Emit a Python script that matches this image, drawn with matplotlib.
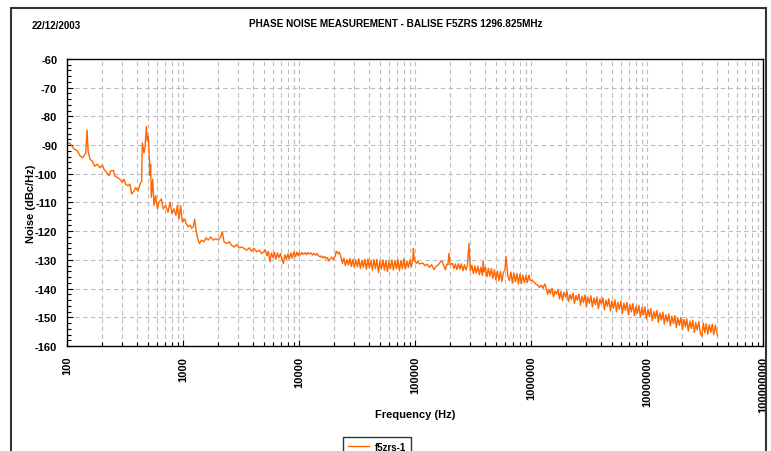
import matplotlib.pyplot as plt
from matplotlib.patches import Rectangle
from matplotlib.ticker import FixedLocator, LogLocator, MultipleLocator, NullFormatter

plt.rcParams['font.family'] = ['Liberation Sans', 'DejaVu Sans']
plt.rcParams['font.weight'] = 'bold'

# values, in pieces (Hz / dBc/Hz)
# 100 Hz .. 5 kHz
freq_low = [
    100, 104, 108, 115, 123, 129, 136, 140, 145, 149, 152, 158, 165, 173, 183,
    192, 202, 208, 220, 230, 238, 251, 258, 272, 286, 300, 310, 320, 336, 349,
    361, 378, 391, 409, 426, 440, 446, 461, 470, 483, 493, 503, 513, 520, 526,
    533, 548, 562, 581, 601, 621, 650, 677, 709, 743, 773, 804, 836, 870, 894,
    924, 955, 986, 1034, 1062, 1111, 1148, 1188, 1227, 1260, 1290, 1328, 1383,
    1448, 1517, 1578, 1652, 1732, 1824, 1923, 2017, 2113, 2183, 2256, 2378,
    2506, 2627, 2753, 2901, 3058, 3206, 3357, 3540, 3733, 3909, 4093, 4316,
    4549, 4765,
]
noise_low = [
    -89.6, -89.2, -89.8, -91.3, -92.0, -93.6, -94.4, -93.8, -92.7, -84.8,
    -92.0, -95.0, -95.5, -97.3, -96.7, -97.9, -97.0, -98.4, -99.6, -100.7,
    -99.0, -98.8, -100.7, -101.3, -101.9, -103.0, -101.9, -103.6, -104.2,
    -103.6, -107.0, -106.0, -104.8, -106.0, -103.6, -102.5, -89.2, -92.7,
    -91.0, -83.5, -88.6, -86.9, -95.0, -100.7, -96.7, -108.2, -101.9, -111.0,
    -107.6, -112.2, -109.9, -108.8, -112.2, -111.0, -113.4, -109.9, -113.9,
    -112.2, -114.5, -111.0, -115.7, -111.0, -116.8, -115.7, -117.3, -118.5,
    -117.9, -119.0, -118.5, -115.8, -119.0, -122.0, -124.3, -123.1, -123.7,
    -122.3, -123.1, -122.0, -123.1, -122.6, -123.1, -122.0, -120.2, -123.7,
    -124.3, -123.7, -124.9, -125.5, -124.7, -125.8, -125.5, -126.0, -126.6,
    -125.8, -127.0, -126.0, -127.2, -126.6, -127.8,
]
# 5 kHz .. 110 kHz
freq_mid = [
    5130, 5290, 5450, 5610, 5780, 5960, 6140, 6320, 6510, 6710, 6910, 7120,
    7340, 7560, 7790, 8020, 8260, 8510, 8770, 9040, 9310, 9590, 9880,
    10000, 10300, 10600, 10900, 11300, 11600, 12000, 12300, 12700, 13100,
    13500, 13900, 14300, 14700, 15200, 15600, 16100, 16600, 17100, 17600,
    18100,
    18700, 19200, 19800, 20400, 21000, 21700, 22300, 23000, 23700, 24400,
    25100, 25900, 26700, 27500, 28300, 29200, 30000, 30900, 31900, 32800,
    33800, 34900, 35900, 37000, 38100, 39300, 40400, 41700, 42900, 44200,
    45600, 46900, 48400, 49800, 51300, 52900, 54500, 56100, 57800, 59600,
    61400, 63200, 65100, 67100, 69100, 71200, 73400, 75600, 77900, 80200,
    82600, 85100, 87700, 90400, 93100, 95900,
    96800, 98800, 103000, 106000, 109000,
]
noise_mid = [
    -126.5, -128.6, -127.0, -130.7, -127.6, -129.2, -127.3, -129.8, -127.6,
    -129.3, -127.8, -129.6, -131.3, -128.2, -129.8, -127.9, -129.6, -127.6,
    -129.4, -127.2, -128.9, -127.3, -128.6,
    -127.6, -128.3, -127.4, -128.1, -127.5, -128.2, -127.4, -127.9, -127.6,
    -128.3, -127.7, -128.4, -127.8, -128.5, -129.0, -128.6, -129.3, -128.8,
    -129.6, -129.2, -130.4,
    -129.6, -129.0, -129.8, -128.9, -127.0, -127.8, -127.3, -128.9, -131.2,
    -129.4, -132.0, -129.9, -131.8, -129.5, -132.3, -129.8, -132.6, -130.0,
    -132.4, -129.6, -133.0, -130.1, -132.6, -129.8, -133.3, -129.7, -132.8,
    -130.2, -133.6, -129.9, -133.1, -129.8, -134.4, -130.4, -133.2, -130.0,
    -133.6, -130.2, -134.0, -130.5, -133.1, -130.0, -133.5, -130.3, -133.0,
    -129.9, -133.8, -130.2, -133.0, -129.6, -133.2, -130.4, -132.6, -130.0,
    -132.4, -129.4,
    -126.0, -130.2, -131.2, -130.5, -131.4,
]
# 110 kHz .. 200 kHz
freq_quiet = [
    116400, 121900, 127700, 133000, 139300, 145900, 151800, 158900, 166400,
    170000, 175400, 182600, 187600, 192000, 196400, 200400,
]
noise_quiet = [
    -131.1, -132.0, -131.5, -132.6, -131.7, -133.4, -132.3, -131.7, -130.6,
    -130.3, -131.7, -133.4, -131.5, -131.7, -127.7, -131.7,
]
# 200 kHz .. 1.2 MHz
freq_upper = [
    210000, 217000, 223000, 230000, 237000, 244000, 251000, 259000, 267000,
    275000, 283000, 292000, 300000, 309000, 319000, 328000, 338000, 349000,
    359000, 370000, 381000, 388000, 393000, 404000, 417000, 429000, 442000,
    456000, 469000, 484000, 498000, 513000, 529000, 545000, 561000, 578000,
    596000, 609000, 632000, 651000, 671000, 691000, 712000, 734000, 756000,
    779000, 802000, 826000, 851000, 877000, 904000, 931000, 959000, 988000,
    1020000, 1050000, 1080000, 1110000, 1150000, 1180000,
]
noise_upper = [
    -131.2, -133.0, -131.4, -133.4, -131.3, -133.2, -131.4, -133.8, -131.7,
    -133.5, -132.0, -124.3, -133.9, -131.8, -134.8, -132.1, -134.6, -132.2,
    -135.2, -132.5, -135.4, -130.6, -134.2, -132.6, -135.9, -132.9, -135.7,
    -133.0, -136.5, -133.4, -137.0, -133.8, -137.2, -134.0, -137.6, -134.4,
    -133.6, -128.8, -135.8, -137.2, -134.2, -138.0, -134.6, -137.6, -134.7,
    -138.4, -135.0, -138.2, -135.3, -137.9, -135.5, -137.8, -135.3, -137.2,
    -137.0, -137.6, -138.0, -138.6, -138.8, -139.6,
]
# 1.2 MHz .. 40 MHz
freq_high = [
    1.23e6, 1.27e6, 1.31e6, 1.35e6, 1.39e6, 1.43e6, 1.47e6, 1.52e6, 1.56e6,
    1.61e6, 1.66e6, 1.71e6, 1.76e6, 1.81e6, 1.87e6, 1.92e6, 1.98e6, 2.04e6,
    2.10e6, 2.17e6, 2.23e6, 2.30e6, 2.37e6, 2.44e6, 2.51e6, 2.59e6, 2.67e6,
    2.75e6, 2.83e6, 2.92e6, 3.00e6, 3.09e6, 3.19e6, 3.28e6, 3.38e6, 3.49e6,
    3.59e6, 3.70e6, 3.81e6, 3.93e6, 4.04e6, 4.17e6, 4.29e6, 4.42e6, 4.56e6,
    4.69e6, 4.84e6, 4.98e6, 5.13e6, 5.29e6, 5.45e6, 5.61e6, 5.78e6, 5.96e6,
    6.14e6, 6.32e6, 6.51e6, 6.71e6, 6.91e6, 7.12e6, 7.34e6, 7.56e6, 7.79e6,
    8.02e6, 8.26e6, 8.51e6, 8.77e6, 9.04e6, 9.31e6, 9.59e6, 9.88e6,
    1.02e7, 1.05e7, 1.08e7, 1.11e7, 1.15e7, 1.18e7, 1.22e7, 1.25e7, 1.29e7,
    1.33e7, 1.37e7, 1.41e7, 1.45e7, 1.50e7, 1.54e7, 1.59e7, 1.64e7, 1.69e7,
    1.74e7, 1.79e7, 1.84e7, 1.90e7, 1.96e7, 2.02e7, 2.08e7, 2.14e7, 2.20e7,
    2.27e7, 2.34e7, 2.41e7, 2.48e7, 2.56e7, 2.63e7, 2.71e7, 2.80e7, 2.88e7,
    2.97e7, 3.06e7, 3.15e7, 3.24e7, 3.34e7, 3.44e7, 3.55e7, 3.65e7, 3.76e7,
    3.88e7, 4.00e7, 4.06e7,
]
noise_high = [
    -138.8, -139.9, -138.4, -139.6, -142.0, -140.2, -141.8, -139.9, -142.9,
    -140.8, -141.9, -140.3, -143.6, -141.0, -144.2, -141.3, -142.8, -140.9,
    -144.5, -142.1, -143.8, -141.6, -145.2, -142.4, -144.0, -141.9, -145.8,
    -142.6, -144.9, -142.2, -146.3, -143.0, -145.1, -142.5, -146.4, -143.3,
    -145.6, -142.9, -147.0, -143.6, -145.4, -143.2, -147.4, -144.0, -146.2,
    -143.5, -147.8, -144.3, -146.9, -143.9, -148.1, -144.7, -147.2, -144.4,
    -148.6, -145.1, -147.6, -144.8, -149.0, -145.6, -148.1, -145.2, -149.5,
    -146.2, -148.6, -145.8, -150.0, -146.6, -149.2, -146.4, -150.6,
    -147.2, -149.8, -147.0, -151.2, -147.9, -150.4, -147.6, -151.8, -148.5,
    -151.0, -148.2, -152.4, -149.1, -151.6, -148.8, -153.0, -149.6, -152.2,
    -149.4, -153.6, -150.2, -152.8, -150.0, -154.2, -150.8, -153.3, -150.5,
    -154.8, -151.3, -153.9, -151.0, -155.3, -151.8, -154.4, -151.5, -155.6,
    -156.6, -152.0, -155.4, -152.3, -155.9, -152.6, -155.2, -152.4, -156.0,
    -152.8, -155.5, -156.4,
]

x_ticks = [1e2, 1e3, 1e4, 1e5, 1e6, 1e7, 1e8]
x_tick_labels = ['100', '1000', '10000', '100000', '1000000', '10000000', '100000000']
y_ticks = [-60, -70, -80, -90, -100, -110, -120, -130, -140, -150, -160]

freq_hz = freq_low + freq_mid + freq_quiet + freq_upper + freq_high
noise_dbc = noise_low + noise_mid + noise_quiet + noise_upper + noise_high

fig = plt.figure(figsize=(7.71, 4.52), dpi=100)

# outer frame of the chart area
fig.patches.append(Rectangle((11 / 771, -0.05), 755 / 771, 1.05 - 9 / 452,
                             transform=fig.transFigure, fill=False,
                             edgecolor='#333333', linewidth=1.5))

ax = fig.add_axes([67 / 771, 1 - 347 / 452, 696 / 771, 287 / 452])
ax.plot(freq_hz, noise_dbc, color='#ff6600', linewidth=1.0, label='f5zrs-1')

ax.set_xscale('log')
ax.set_xlim(1e2, 1e8)
ax.set_ylim(-160, -60)

ax.xaxis.set_major_locator(FixedLocator(x_ticks))
ax.set_xticklabels(x_tick_labels, rotation=90, fontsize=8, fontweight='bold')
ax.xaxis.set_minor_locator(LogLocator(base=10, subs=range(2, 10), numticks=20))
ax.xaxis.set_minor_formatter(NullFormatter())
ax.set_yticks(y_ticks)
ax.set_yticklabels([str(v) for v in y_ticks], fontsize=8, fontweight='bold')
ax.yaxis.set_minor_locator(MultipleLocator(2))

ax.tick_params(axis='both', which='major', direction='in', length=4, width=0.8, pad=7)
ax.tick_params(axis='both', which='minor', direction='in', length=3, width=0.8)

ax.grid(True, which='major', axis='both', color='#bdbdbd', linestyle=(0, (4, 3)), linewidth=0.8)
ax.grid(True, which='minor', axis='x', color='#bdbdbd', linestyle=(0, (4, 3)), linewidth=0.8)
for s in ax.spines.values():
    s.set_linewidth(1.0)
    s.set_color('black')

ax.set_xlabel('Frequency (Hz)', fontsize=8, fontweight='bold')
ax.xaxis.set_label_coords(0.5, -(410 - 347) / 287)
ax.set_ylabel('Noise (dBc/Hz)', fontsize=8, fontweight='bold')
ax.yaxis.set_label_coords(-(67 - 36) / 696, 0.5)

fig.text(396 / 771, 1 - 24 / 452, 'PHASE NOISE MEASUREMENT - BALISE F5ZRS 1296.825MHz',
         ha='center', va='center', fontsize=7.2, fontweight='bold')
fig.text(32 / 771, 1 - 26 / 452, '22/12/2003', ha='left', va='center',
         fontsize=7, fontweight='bold')

fig.legend(loc='upper center', bbox_to_anchor=(377 / 771, 1 - 433 / 452),
           fontsize=7, frameon=True, fancybox=False, edgecolor='black',
           handlelength=2.2, handletextpad=0.6, borderpad=0.5)

fig.savefig('out.png', dpi=100)
